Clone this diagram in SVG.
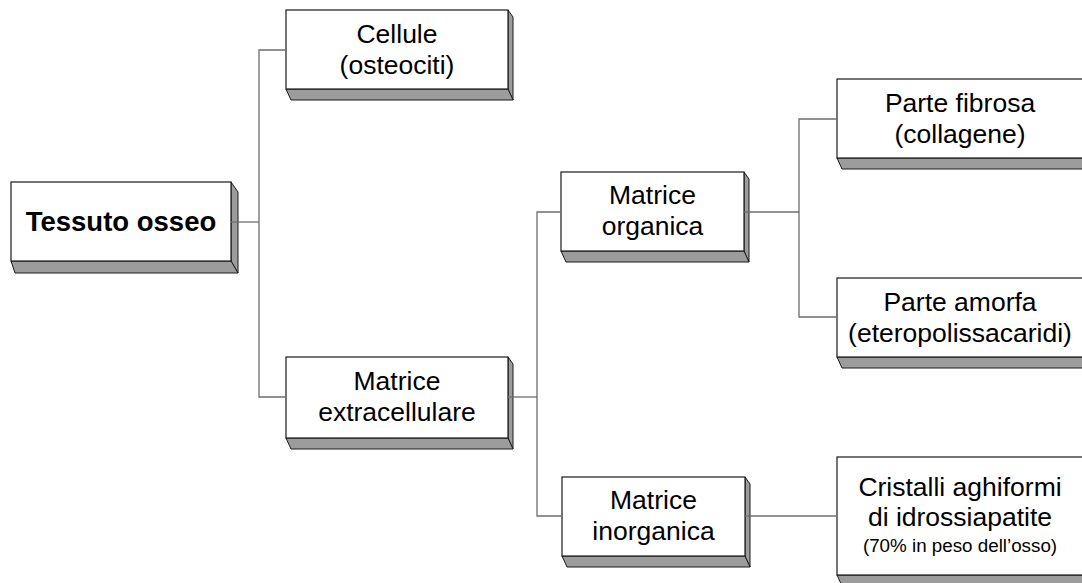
<svg xmlns="http://www.w3.org/2000/svg" width="1082" height="583" viewBox="0 0 1082 583">
<style>
.front{fill:#fff;stroke:#1a1a1a;stroke-width:1.2}
.side{fill:#9c9c9c;stroke:#1a1a1a;stroke-width:1}
.t{font-family:"Liberation Sans",Arial,sans-serif;font-size:26.5px;fill:#000;text-anchor:middle}
.b{font-weight:bold;font-size:27.5px}
.s{font-size:18.8px}
.c{fill:none;stroke:#6e6e6e;stroke-width:1.3}
</style>
<rect width="1082" height="583" fill="#fff"/>
<g id="n-tessuto">
<polygon class="side" points="231,182 238,192 238,273 231,261"/>
<polygon class="side" points="11,261 231,261 238,273 15,273"/>
<rect class="front" x="11" y="182" width="220" height="79"/>
<text class="t b" x="121" y="231">Tessuto osseo</text>
</g>
<g id="n-cellule">
<polygon class="side" points="508,10 513,17 513,100 508,89"/>
<polygon class="side" points="286,89 508,89 513,100 291,100"/>
<rect class="front" x="286" y="10" width="222" height="79"/>
<text class="t" x="397" y="43">Cellule</text>
<text class="t" x="397" y="74">(osteociti)</text>
</g>
<g id="n-extracellulare">
<polygon class="side" points="508,357 513,364 513,449 508,438"/>
<polygon class="side" points="286,438 508,438 513,449 291,449"/>
<rect class="front" x="286" y="357" width="222" height="81"/>
<text class="t" x="397" y="390">Matrice</text>
<text class="t" x="397" y="421">extracellulare</text>
</g>
<g id="n-organica">
<polygon class="side" points="744,172 749,179 749,262 744,251"/>
<polygon class="side" points="561,251 744,251 749,262 566,262"/>
<rect class="front" x="561" y="172" width="183" height="79"/>
<text class="t" x="652.5" y="204">Matrice</text>
<text class="t" x="652.5" y="235">organica</text>
</g>
<g id="n-inorganica">
<polygon class="side" points="745,477 750,484 750,567 745,556"/>
<polygon class="side" points="562,556 745,556 750,567 567,567"/>
<rect class="front" x="562" y="477" width="183" height="79"/>
<text class="t" x="653.5" y="509">Matrice</text>
<text class="t" x="653.5" y="540">inorganica</text>
</g>
<g id="n-fibrosa">
<polygon class="side" points="1083,79 1088,86 1088,169 1083,158"/>
<polygon class="side" points="837,158 1083,158 1088,169 842,169"/>
<rect class="front" x="837" y="79" width="246" height="79"/>
<text class="t" x="960" y="112">Parte fibrosa</text>
<text class="t" x="960" y="143">(collagene)</text>
</g>
<g id="n-amorfa">
<polygon class="side" points="1083,278 1088,285 1088,368 1083,357"/>
<polygon class="side" points="837,357 1083,357 1088,368 842,368"/>
<rect class="front" x="837" y="278" width="246" height="79"/>
<text class="t" x="960" y="311">Parte amorfa</text>
<text class="t" x="960" y="342">(eteropolissacaridi)</text>
</g>
<g id="n-cristalli">
<polygon class="side" points="1083,457 1088,464 1088,586 1083,575"/>
<polygon class="side" points="837,575 1083,575 1088,586 842,586"/>
<rect class="front" x="837" y="457" width="246" height="118"/>
<text class="t" x="960" y="496">Cristalli aghiformi</text>
<text class="t" x="960" y="526">di idrossiapatite</text>
<text class="t s" x="960" y="552">(70% in peso dell’osso)</text>
</g>
<g id="connectors">
<polyline class="c" points="231,222 259,222"/>
<polyline class="c" points="286,50 259,50 259,397 286,397"/>
<polyline class="c" points="508,397 537,397"/>
<polyline class="c" points="561,212 537,212 537,516 562,516"/>
<polyline class="c" points="744,212 799,212"/>
<polyline class="c" points="837,119 799,119 799,317 837,317"/>
<polyline class="c" points="745,516 837,516"/>
</g>
</svg>
